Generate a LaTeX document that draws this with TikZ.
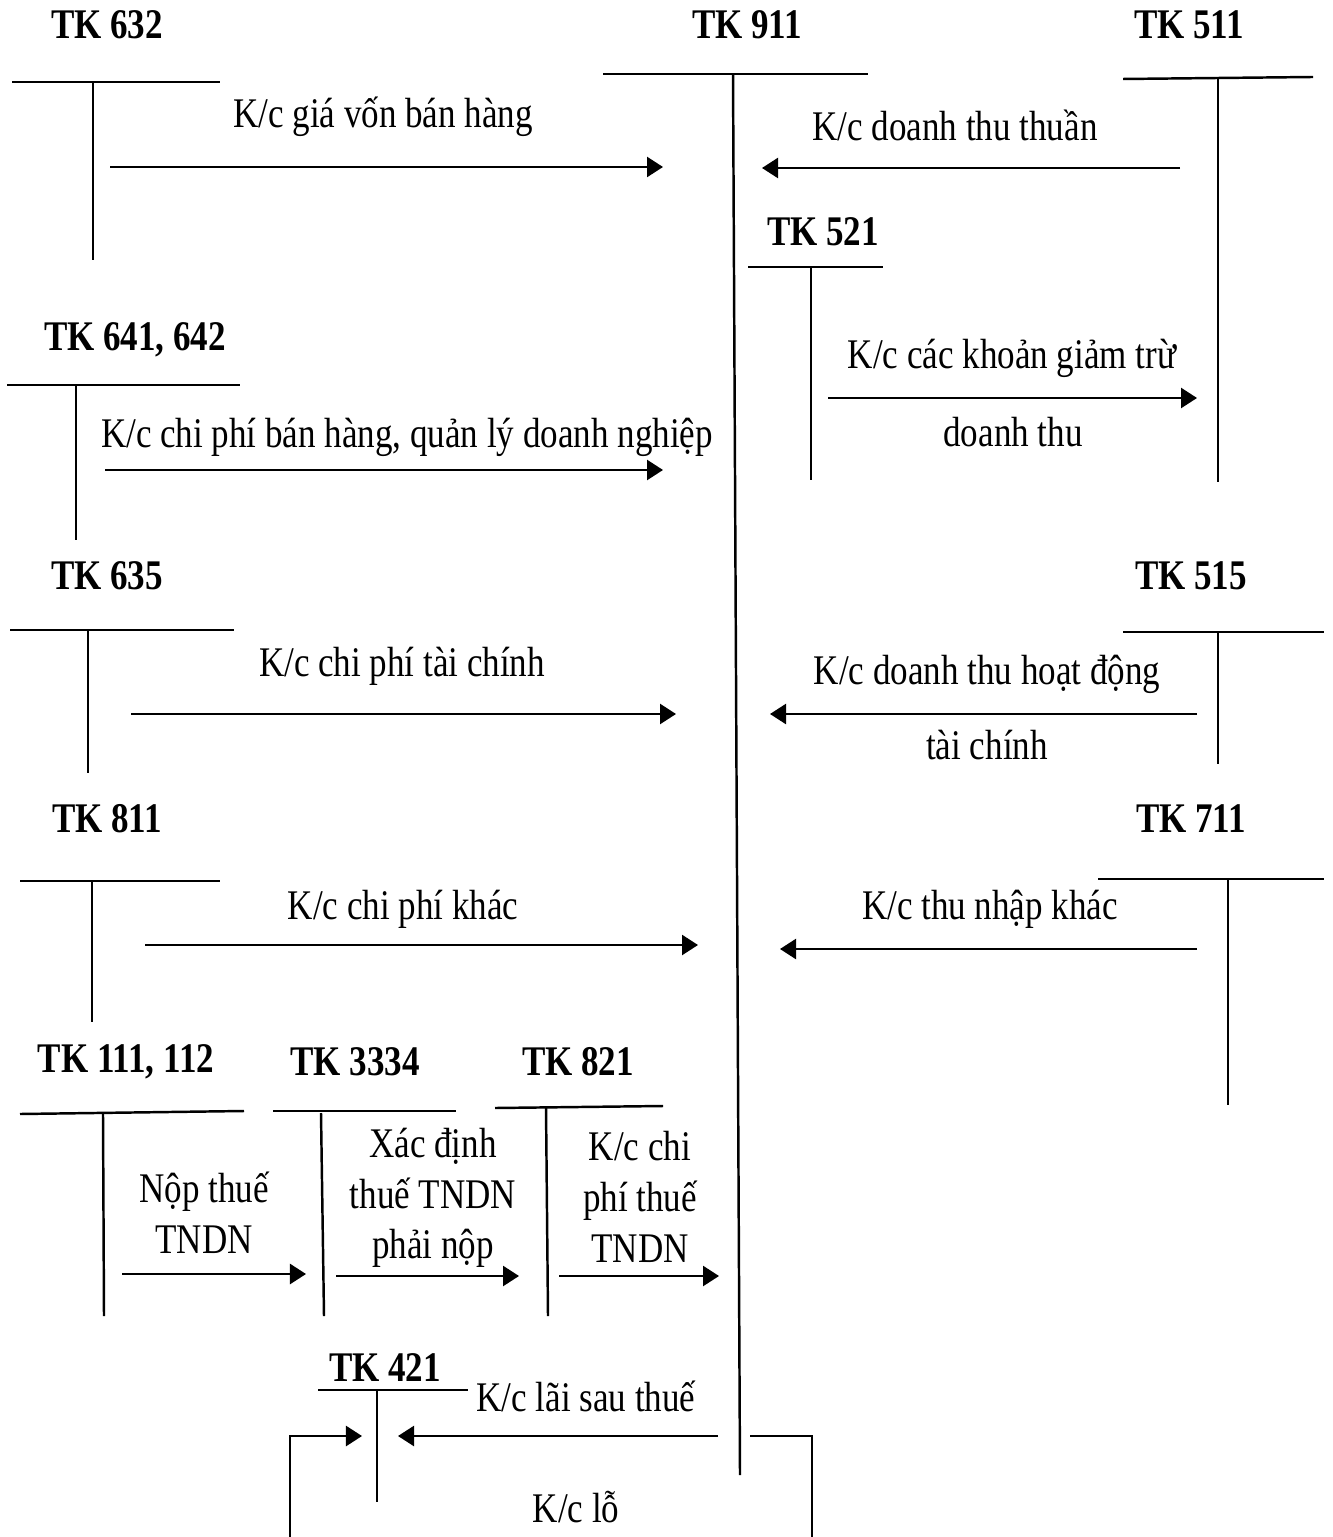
\documentclass[tikz,border=0pt]{standalone}
\usepackage{fontspec}
\setmainfont{Liberation Serif}[FakeStretch=0.83]
\usetikzlibrary{arrows.meta}
\tikzset{
  acc/.style={font=\bfseries\fontsize{12}{14}\selectfont, inner sep=0pt},
  lbl/.style={font=\fontsize{12}{14.4}\selectfont, inner sep=0pt, align=center},
  tline/.style={line width=0.7pt},
  flow/.style={line width=0.7pt, -{Triangle[length=1.6mm,width=2mm]}}
}
\begin{document}
\begin{tikzpicture}[x=0.01cm, y=-0.01cm]
    \useasboundingbox (0,0) rectangle (1332,1537);
    % TK 911 in the middle
    \node[acc] (tk911) at (747,25) {TK 911};
    \draw[tline] (603,74) -- (868,74);
    \draw[tline] (733,74) -- (740,1475);

    % TK 632
    \node[acc] (tk632) at (107,25) {TK 632};
    \draw[tline] (12,82) -- (220,82);
    \draw[tline] (93,82) -- (93,260);
    \coordinate (s632) at (110,167);
    \coordinate (e632) at (663,167);
    \draw[flow] (s632) -- (e632);
    \node[lbl] (kc632) at (383,117) {K/c giá vốn bán hàng};

    % TK 511
    \node[acc] (tk511) at (1189,25) {TK 511};
    \draw[tline] (1123,79) -- (1313,77);
    \draw[tline] (1218,78) -- (1218,482);
    \coordinate (s511) at (1180,168);
    \coordinate (e511) at (762,168);
    \draw[flow] (s511) -- (e511);
    \node[lbl] (kc511) at (955,125) {K/c doanh thu thuần};

    % TK 521
    \node[acc] (tk521) at (823,232) {TK 521};
    \draw[tline] (748,267) -- (883,267);
    \draw[tline] (811,267) -- (811,480);
    \coordinate (s521) at (828,398);
    \coordinate (e521) at (1197,398);
    \draw[flow] (s521) -- (e521);
    \node[lbl] (kc521a) at (1012,358) {K/c các khoản giảm trừ};
    \node[lbl] (kc521b) at (1013,432) {doanh thu};

    % TK 641, 642
    \node[acc] (tk641) at (135,340) {TK 641, 642};
    \draw[tline] (7,385) -- (240,385);
    \draw[tline] (76,385) -- (76,540);
    \coordinate (s641) at (105,470);
    \coordinate (e641) at (663,470);
    \draw[flow] (s641) -- (e641);
    \node[lbl] (kc641) at (407,437) {K/c chi phí bán hàng, quản lý doanh nghiệp};

    % TK 635
    \node[acc] (tk635) at (107,576) {TK 635};
    \draw[tline] (10,630) -- (234,630);
    \draw[tline] (88,630) -- (88,773);
    \coordinate (s635) at (131,714);
    \coordinate (e635) at (676,714);
    \draw[flow] (s635) -- (e635);
    \node[lbl] (kc635) at (402,666) {K/c chi phí tài chính};

    % TK 515
    \node[acc] (tk515) at (1191,576) {TK 515};
    \draw[tline] (1123,632) -- (1324,632);
    \draw[tline] (1218,632) -- (1218,764);
    \coordinate (s515) at (1197,714);
    \coordinate (e515) at (770,714);
    \draw[flow] (s515) -- (e515);
    \node[lbl] (kc515a) at (987,674) {K/c doanh thu hoạt động};
    \node[lbl] (kc515b) at (987,745) {tài chính};

    % TK 811
    \node[acc] (tk811) at (107,819) {TK 811};
    \draw[tline] (20,881) -- (220,881);
    \draw[tline] (92,881) -- (92,1022);
    \coordinate (s811) at (145,945);
    \coordinate (e811) at (698,945);
    \draw[flow] (s811) -- (e811);
    \node[lbl] (kc811) at (403,909) {K/c chi phí khác};

    % TK 711
    \node[acc] (tk711) at (1191,819) {TK 711};
    \draw[tline] (1098,879) -- (1324,879);
    \draw[tline] (1228,879) -- (1228,1105);
    \coordinate (s711) at (1197,949);
    \coordinate (e711) at (780,949);
    \draw[flow] (s711) -- (e711);
    \node[lbl] (kc711) at (990,909) {K/c thu nhập khác};

    % thue TNDN
    \node[acc] (tk111) at (126,1062) {TK 111, 112};
    \draw[tline] (20,1114) -- (244,1111);
    \draw[tline] (103,1114) -- (104,1316);
    \node[acc] (tk3334) at (355,1062) {TK 3334};
    \draw[tline] (273,1111) -- (456,1111);
    \draw[tline] (321,1113) -- (324,1316);
    \node[acc] (tk821) at (578,1062) {TK 821};
    \draw[tline] (495,1108) -- (663,1106);
    \draw[tline] (546,1107) -- (548,1316);
    \coordinate (s111) at (122,1274);
    \coordinate (e111) at (306,1274);
    \draw[flow] (s111) -- (e111);
    \node[lbl] (kc111) at (204,1213) {Nộp thuế\\TNDN};
    \coordinate (s3334) at (336,1276);
    \coordinate (e3334) at (519,1276);
    \draw[flow] (s3334) -- (e3334);
    \node[lbl] (kc3334) at (433,1198) {Xác định\\thuế TNDN\\phải nộp};
    \coordinate (s821) at (559,1276);
    \coordinate (e821) at (719,1276);
    \draw[flow] (s821) -- (e821);
    \node[lbl] (kc821) at (640,1197) {K/c chi\\phí thuế\\TNDN};

    % TK 421, lai / lo
    \node[acc] (tk421) at (385,1368) {TK 421};
    \draw[tline] (318,1390) -- (468,1390);
    \draw[tline] (377,1390) -- (377,1502);
    \coordinate (slai) at (718,1436);
    \coordinate (elai) at (398,1436);
    \draw[flow] (slai) -- (elai);
    \node[lbl] (kclai) at (586,1396) {K/c lãi sau thuế};
    \coordinate (slo) at (750,1436);
    \coordinate (mlo) at (812,1537);
    \coordinate (nlo) at (290,1537);
    \coordinate (elo) at (362,1436);
    \draw[tline] (slo) -| (mlo);
    \draw[flow] (nlo) |- (elo);
    \node[lbl] (kclo) at (576,1507) {K/c lỗ};
\end{tikzpicture}
\end{document}
